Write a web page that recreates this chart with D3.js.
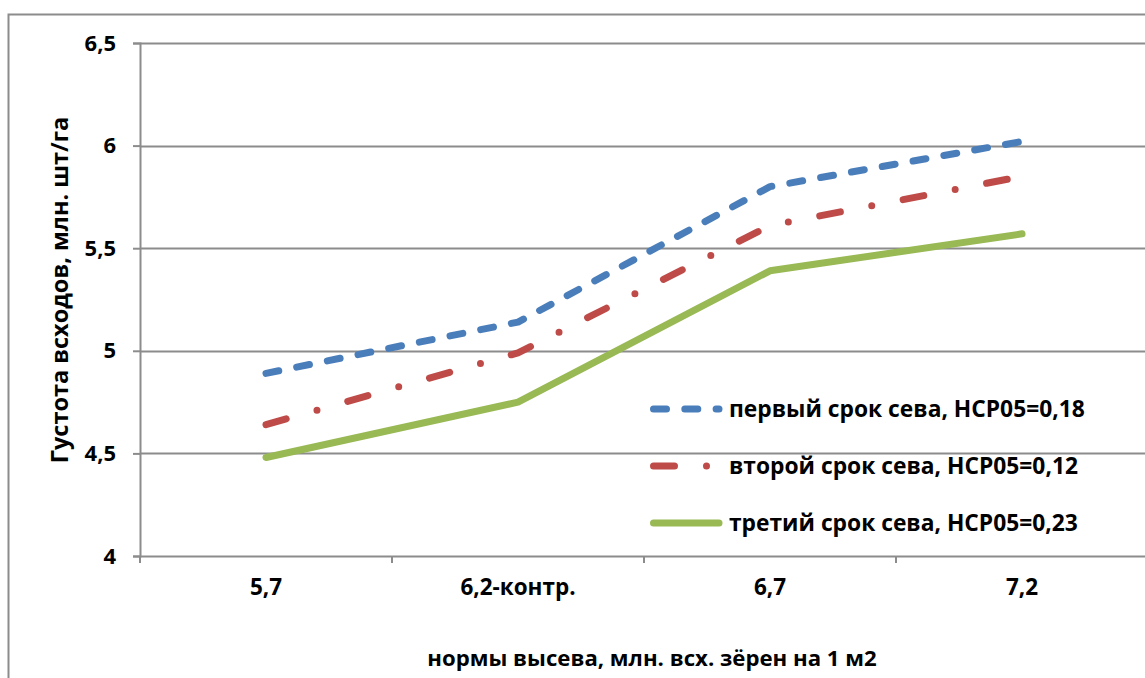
<!DOCTYPE html>
<html>
<head>
<meta charset="utf-8">
<script src="https://cdn.jsdelivr.net/npm/d3@7"></script>
<style>
  body { margin: 0; background: #fff; }
  svg text { font-family: "Open Sans", Lato, sans-serif; font-weight: 700; fill: #000; }
</style>
</head>
<body>
<div id="chart"></div>
<script>
// categories and series
const categories = ["5,7", "6,2-контр.", "6,7", "7,2"];
const first = [4.89, 5.14, 5.80, 6.02];
const second = [4.64, 4.99, 5.61, 5.85];
const third = [4.48, 4.75, 5.39, 5.57];
const yTicks = [4, 4.5, 5, 5.5, 6, 6.5];
const seriesNames = [
  "первый срок сева, НСР05=0,18",
  "второй срок сева, НСР05=0,12",
  "третий срок сева, НСР05=0,23"
];

const width = 1145, height = 678;
const margin = { top: 43, left: 140, right: -3, bottom: 122 };

const svg = d3.select("#chart").append("svg")
  .attr("width", width)
  .attr("height", height);

// outer chart border (only left and top visible)
svg.append("path")
  .attr("d", `M8.5,${height} V14.5 H${width}`)
  .attr("fill", "none")
  .attr("stroke", "#8c8c8c")
  .attr("stroke-width", 2);

const x = d3.scaleBand()
  .domain(categories)
  .range([margin.left, width - margin.right])
  .paddingInner(0).paddingOuter(0);

const y = d3.scaleLinear()
  .domain([4, 6.5])
  .range([height - margin.bottom, margin.top]);

// gridlines
svg.append("g")
  .selectAll("line")
  .data(yTicks.slice(1))
  .join("line")
  .attr("x1", margin.left)
  .attr("x2", width)
  .attr("y1", d => Math.round(y(d)) + 0.5)
  .attr("y2", d => Math.round(y(d)) + 0.5)
  .attr("stroke", "#8c8c8c")
  .attr("stroke-width", 2);

// y axis
const yAxis = svg.append("g")
  .attr("transform", `translate(${margin.left},0)`)
  .call(d3.axisLeft(y).tickValues(yTicks).tickSize(7).tickPadding(17)
    .tickFormat(d => String(d).replace(".", ",")));
yAxis.select(".domain").attr("stroke", "#8c8c8c").attr("stroke-width", 2);
yAxis.selectAll(".tick line").attr("stroke", "#8c8c8c").attr("stroke-width", 2);
yAxis.selectAll(".tick text").style("font-size", "22px");

// x axis
const xAxis = svg.append("g")
  .attr("transform", `translate(0,${y(4)})`)
  .call(d3.axisBottom(x).tickSize(0).tickPadding(23));
xAxis.select(".domain").attr("stroke", "#8c8c8c").attr("stroke-width", 2);
xAxis.selectAll(".tick text").style("font-size", "22.5px");

// category boundary tick marks
svg.append("g")
  .selectAll("line")
  .data(categories)
  .join("line")
  .attr("x1", d => x(d))
  .attr("x2", d => x(d))
  .attr("y1", y(4))
  .attr("y2", y(4) + 7)
  .attr("stroke", "#8c8c8c")
  .attr("stroke-width", 2);

// axis titles
svg.append("text")
  .attr("x", 652)
  .attr("y", 666)
  .attr("text-anchor", "middle")
  .style("font-size", "22.2px")
  .text("нормы высева, млн. всх. зёрен на 1 м2");

svg.append("text")
  .attr("transform", "translate(68,290) rotate(-90)")
  .attr("text-anchor", "middle")
  .style("font-size", "23.5px")
  .text("Густота всходов, млн. шт/га");

const series = [
  { name: seriesNames[0], values: first, color: "#4a7ebb", dash: "13 18.3" },
  { name: seriesNames[1], values: second, color: "#be4b48", dash: "21 32 0 32" },
  { name: seriesNames[2], values: third, color: "#98b954", dash: null }
];

const line = d3.line()
  .x((d, i) => x(categories[i]) + x.bandwidth() / 2)
  .y(d => y(d));

series.forEach(s => {
  svg.append("path")
    .datum(s.values)
    .attr("d", line)
    .attr("fill", "none")
    .attr("stroke", s.color)
    .attr("stroke-width", 7)
    .attr("stroke-linecap", "round")
    .attr("stroke-linejoin", "round")
    .attr("stroke-dasharray", s.dash);
});

// legend
const legend = svg.append("g").attr("transform", "translate(650,0)");
const rowY = [409, 466, 523];
series.forEach((s, i) => {
  const row = legend.append("g").attr("transform", `translate(0,${rowY[i]})`);
  row.append("line")
    .attr("x1", 3.5)
    .attr("x2", 69)
    .attr("y1", 0).attr("y2", 0)
    .attr("stroke", s.color)
    .attr("stroke-width", 7)
    .attr("stroke-linecap", "round")
    .attr("stroke-dasharray", s.dash);
  row.append("text")
    .attr("x", 79)
    .attr("dy", "0.36em")
    .style("font-size", "22.8px")
    .text(s.name);
});
</script>
</body>
</html>
